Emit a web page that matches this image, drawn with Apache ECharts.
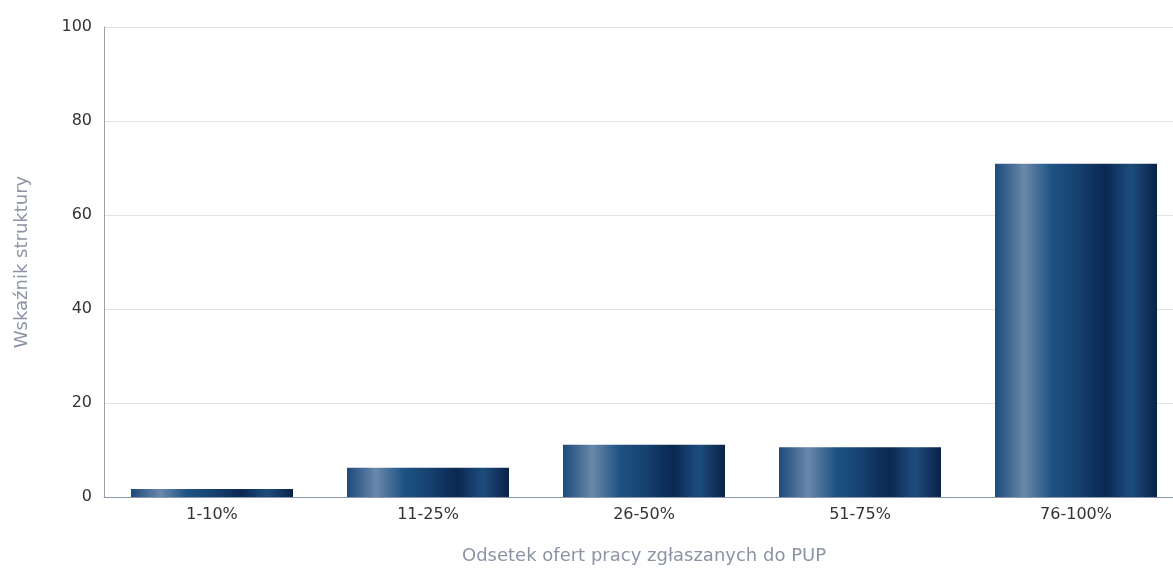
<!DOCTYPE html>
<html><head><meta charset="utf-8">
<script src="https://cdn.jsdelivr.net/npm/echarts@6/dist/echarts.min.js"></script>
<style>html,body{margin:0;padding:0;background:#fff}#c{width:1173px;height:568px}</style>
</head><body><div id="c"></div>
<script>
var categories = ["1-10%", "11-25%", "26-50%", "51-75%", "76-100%"];
var values = [1.7, 6.2, 11.1, 10.6, 70.9];
var yTicks = [0, 20, 40, 60, 80, 100];

var grad = new echarts.graphic.LinearGradient(0, 0, 1, 0, [
  {offset: 0, color: '#1c4a7c'},
  {offset: 0.18, color: '#6a88aa'},
  {offset: 0.35, color: '#1d5283'},
  {offset: 0.5, color: '#174270'},
  {offset: 0.68, color: '#0b2752'},
  {offset: 0.84, color: '#1d4d7d'},
  {offset: 1, color: '#0a2248'}
]);

var chart = echarts.init(document.getElementById('c'));
chart.setOption({
  animation: false,
  grid: {left: 104, top: 27, height: 470, width: 1080, containLabel: false, outerBoundsMode: 'none'},
  xAxis: {
    type: 'category', data: categories,
    name: 'Odsetek ofert pracy zgłaszanych do PUP',
    nameLocation: 'middle', nameGap: 50,
    nameTextStyle: {color: '#8a94a4', fontSize: 18, fontFamily: 'DejaVu Sans'},
    axisLine: {lineStyle: {color: '#8c98ac', width: 1}},
    axisTick: {show: false},
    axisLabel: {color: '#333', fontSize: 16, fontFamily: 'DejaVu Sans', margin: 10}
  },
  yAxis: {
    type: 'value', min: yTicks[0], max: yTicks[yTicks.length - 1], interval: 20,
    name: 'Wskaźnik struktury', nameLocation: 'middle', nameGap: 73, nameRotate: 90,
    nameTextStyle: {color: '#8a94a4', fontSize: 18, fontFamily: 'DejaVu Sans'},
    axisLine: {show: true, lineStyle: {color: '#a0a0a8', width: 1}},
    axisTick: {show: false},
    axisLabel: {color: '#333', fontSize: 16, fontFamily: 'DejaVu Sans', margin: 12},
    splitLine: {lineStyle: {color: '#dfe2ea'}}
  },
  series: [{
    type: 'bar', data: values, barWidth: '75%',
    itemStyle: {color: grad}
  }]
});
</script></body></html>
